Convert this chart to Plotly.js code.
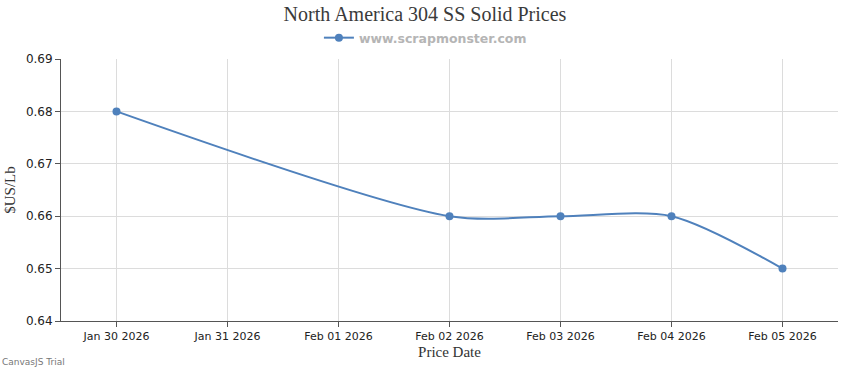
<!DOCTYPE html>
<html><head><meta charset="utf-8">
<script src="https://cdn.plot.ly/plotly-3.0.1.min.js"></script>
<style>html,body{margin:0;padding:0;background:#fff}#chart{width:850px;height:370px}</style>
</head><body><div id="chart"></div>
<script>
const dates = ["2026-01-30", "2026-02-02", "2026-02-03", "2026-02-04", "2026-02-05"];
const prices = [0.68, 0.66, 0.66, 0.66, 0.65];
const tickDates = ["2026-01-30","2026-01-31","2026-02-01","2026-02-02","2026-02-03","2026-02-04","2026-02-05"];
const tickLabels = ["Jan 30 2026","Jan 31 2026","Feb 01 2026","Feb 02 2026","Feb 03 2026","Feb 04 2026","Feb 05 2026"];
const yTicks = [0.64, 0.65, 0.66, 0.67, 0.68, 0.69];

const trace = {
  x: dates, y: prices, type: 'scatter', mode: 'lines+markers',
  name: 'www.scrapmonster.com',
  line: {color: '#4F81BC', width: 2, shape: 'spline', smoothing: 0.8},
  marker: {color: '#4F81BC', size: 8, symbol: 'circle'}
};
const layout = {
  width: 850, height: 370,
  margin: {l: 61, r: 12, t: 59, b: 49, autoexpand: false},
  paper_bgcolor: '#fff', plot_bgcolor: '#fff',
  title: {text: 'North America 304 SS Solid Prices', x: 0.5, xanchor: 'center', y: 0.982, yanchor: 'top',
          font: {family: 'Liberation Serif, Times New Roman, serif', size: 20, color: '#3a3a3a'}},
  showlegend: true,
  legend: {orientation: 'h', x: 0.469, xanchor: 'center', y: 1.08, yanchor: 'middle',
           font: {family: 'DejaVu Sans, Verdana, sans-serif', size: 12.5, color: '#b5b5b5', weight: 'bold'},
           itemwidth: 30, bgcolor: 'rgba(0,0,0,0)'},
  xaxis: {
    type: 'date', range: ['2026-01-29 12:00', '2026-02-05 12:00'],
    tickvals: tickDates, ticktext: tickLabels,
    showgrid: true, gridcolor: '#dcdcdc', gridwidth: 1,
    showline: true, linecolor: '#555', linewidth: 1,
    ticks: 'outside', ticklen: 5, tickcolor: '#555',
    tickfont: {family: 'DejaVu Sans, Verdana, sans-serif', size: 11, color: '#222'},
    title: {text: 'Price Date', standoff: 4, font: {family: 'Liberation Serif, Times New Roman, serif', size: 15, color: '#333'}},
    zeroline: false, fixedrange: true
  },
  yaxis: {
    range: [0.64, 0.69], tickvals: yTicks, ticktext: yTicks.map(v => v.toFixed(2)),
    showgrid: true, gridcolor: '#dcdcdc', gridwidth: 1,
    showline: true, linecolor: '#555', linewidth: 1,
    ticks: 'outside', ticklen: 5, tickcolor: '#555',
    tickfont: {family: 'DejaVu Sans, Verdana, sans-serif', size: 12, color: '#222'},
    title: {text: '$US/Lb', standoff: 6, font: {family: 'Liberation Serif, Times New Roman, serif', size: 15, color: '#333'}},
    zeroline: false, fixedrange: true
  },
  annotations: [{
    text: 'CanvasJS Trial', xref: 'paper', yref: 'paper', x: -0.0785, y: -0.13,
    xanchor: 'left', yanchor: 'top', showarrow: false,
    font: {family: 'DejaVu Sans, Verdana, sans-serif', size: 9, color: '#777'}
  }]
};
Plotly.newPlot('chart', [trace], layout, {displayModeBar: false, staticPlot: true});
</script></body></html>
